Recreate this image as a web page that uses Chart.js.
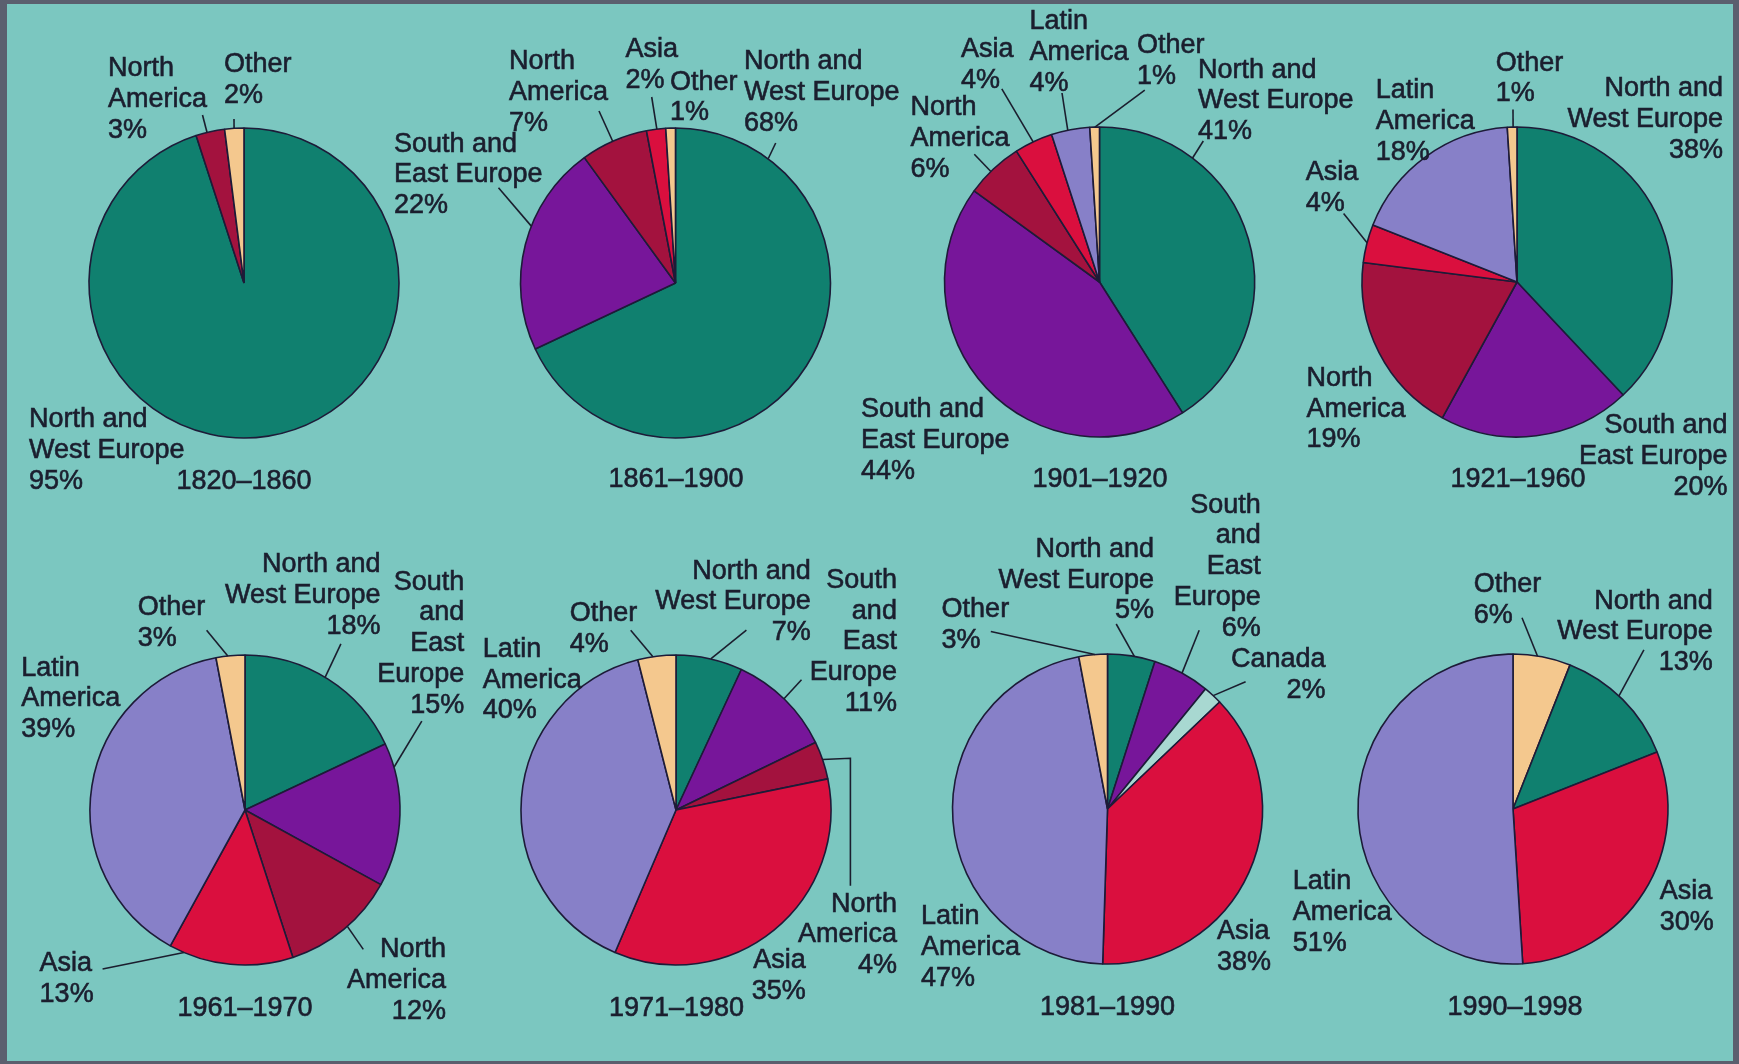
<!DOCTYPE html>
<html>
<head>
<meta charset="utf-8">
<title>Immigration by region of origin, 1820-1998</title>
<script src="https://cdn.jsdelivr.net/npm/chart.js@4.4.1/dist/chart.umd.min.js"></script>
<style>
  html, body { margin: 0; padding: 0; }
  body { width: 1739px; height: 1064px; background: #5b5f6e; position: relative; overflow: hidden; }
  #panel { position: absolute; left: 7px; top: 4px; width: 1726px; height: 1057px; background: #7bc7c0; }
  canvas.pie { position: absolute; left: 0; top: 0; }
</style>
</head>
<body>
<div id="panel"></div>
<div id="charts"></div>

<script>
// Data: share of immigrants by region of origin, per period
const periods = ['1820–1860', '1861–1900', '1901–1920', '1921–1960',
                 '1961–1970', '1971–1980', '1981–1990', '1990–1998'];

const regions1820 = ['North and West Europe', 'North America', 'Other'];
const share1820 = [95, 3, 2];

const regions1861 = ['North and West Europe', 'South and East Europe', 'North America', 'Asia', 'Other'];
const share1861 = [68, 22, 7, 2, 1];

const regions1901 = ['North and West Europe', 'South and East Europe', 'North America', 'Asia', 'Latin America', 'Other'];
const share1901 = [41, 44, 6, 4, 4, 1];

const regions1921 = ['North and West Europe', 'South and East Europe', 'North America', 'Asia', 'Latin America', 'Other'];
const share1921 = [38, 20, 19, 4, 18, 1];

const regions1961 = ['North and West Europe', 'South and East Europe', 'North America', 'Asia', 'Latin America', 'Other'];
const share1961 = [18, 15, 12, 13, 39, 3];

const regions1971 = ['North and West Europe', 'South and East Europe', 'North America', 'Asia', 'Latin America', 'Other'];
const share1971 = [7, 11, 4, 35, 40, 4];

const regions1981 = ['North and West Europe', 'South and East Europe', 'Canada', 'Asia', 'Latin America', 'Other'];
const share1981 = [5, 6, 2, 38, 47, 3];

const regions1990 = ['Other', 'North and West Europe', 'Asia', 'Latin America'];
const share1990 = [6, 13, 30, 51];

const allRegions = [regions1820, regions1861, regions1901, regions1921, regions1961, regions1971, regions1981, regions1990];
const allShares = [share1820, share1861, share1901, share1921, share1961, share1971, share1981, share1990];

// Styles
const regionColors = {
  'North and West Europe': '#10806f',
  'South and East Europe': '#77169a',
  'North America': '#a3123e',
  'Canada': '#a8d8d1',
  'Asia': '#da0f3e',
  'Latin America': '#8780c8',
  'Other': '#f4c88e'
};
const wraps = {
  'North and West Europe': ['North and', 'West Europe'],
  'South and East Europe': ['South and', 'East Europe'],
  'North America': ['North', 'America'],
  'Latin America': ['Latin', 'America'],
  'Canada': ['Canada'],
  'Asia': ['Asia'],
  'Other': ['Other']
};
const tallWrap = ['South', 'and', 'East', 'Europe'];
const TEXT = '#1b1e2e';
const FONT = '27px "Liberation Sans", Arial, Helvetica, sans-serif';
const LINE = 30.8;
const W = 1739, H = 1064, R = 155;

// Layout: pie centres, label anchors and leader lines
const centers = [[244, 283], [675.5, 283], [1099.5, 282], [1517, 282],
                 [245, 810], [676, 810], [1107.5, 809], [1513, 809]];
const titlePos = [[244, 489], [676, 487], [1100, 487], [1518, 487],
                  [245, 1016], [676.5, 1016], [1107.5, 1015], [1515, 1015]];
const labelLayout = [
  [
    { s: 0, x: 29, y: 427 },
    { s: 1, x: 108, y: 76, lead: { t: 0.39, to: [[202.5, 115]] } },
    { s: 2, x: 224, y: 72, lead: { t: 0.49, to: [[234, 119]] } }
  ],
  [
    { s: 0, x: 744, y: 69, lead: { t: 0.15, to: [[775.7, 143]] } },
    { s: 1, x: 394, y: 151.5, lead: { t: 0.59, to: [[498.5, 187.7]] } },
    { s: 2, x: 509, y: 69, lead: { t: 0.48, to: [[599, 111]] } },
    { s: 3, x: 625.6, y: 57, lead: { t: 0.54, to: [[651.7, 97]] } },
    { s: 4, x: 670, y: 89.5 }
  ],
  [
    { s: 0, x: 1198, y: 77.5, lead: { t: 0.25, to: [[1203.3, 141]] } },
    { s: 1, x: 861, y: 417 },
    { s: 2, x: 910.6, y: 115.4, lead: { t: 0.44, to: [[974.3, 154.3]] } },
    { s: 3, x: 961, y: 57, lead: { t: 0.49, to: [[1001.8, 88.8]] } },
    { s: 4, x: 1029.4, y: 29.3, lead: { t: 0.43, to: [[1062, 93]] } },
    { s: 5, x: 1137, y: 53.4, lead: { t: 0.53, to: [[1144.8, 90.2]] } }
  ],
  [
    { s: 0, x: 1723, y: 96.4, align: 'right' },
    { s: 1, x: 1727.6, y: 433.2, align: 'right' },
    { s: 2, x: 1306.4, y: 385.7 },
    { s: 3, x: 1305.7, y: 179.8, lead: { t: 0.52, to: [[1343.6, 213.5]] } },
    { s: 4, x: 1375.7, y: 98.1 },
    { s: 5, x: 1495.8, y: 70.6, lead: { t: 0.6, to: [[1513, 109.5]] } }
  ],
  [
    { s: 0, x: 380.5, y: 572.3, align: 'right', lead: { t: 0.48, to: [[340.9, 643.9]] } },
    { s: 1, x: 464.2, y: 589.5, align: 'right', tall: true, lead: { t: 0.17, to: [[421.8, 721.1]] } },
    { s: 2, x: 445.9, y: 957.3, align: 'right', lead: { t: 0.46, to: [[363.3, 949.4]] } },
    { s: 3, x: 39.6, y: 971.1, lead: { t: 0.88, to: [[102.6, 969]] } },
    { s: 4, x: 21.3, y: 675.6 },
    { s: 5, x: 137.7, y: 615.4, lead: { t: 0.41, to: [[206.6, 630.2]] } }
  ],
  [
    { s: 0, x: 810.8, y: 578.5, align: 'right', lead: { t: 0.52, to: [[746.4, 630.2]] } },
    { s: 1, x: 896.9, y: 587.8, align: 'right', tall: true, lead: { t: 0.49, to: [[801.5, 679.8]] } },
    { s: 2, x: 896.9, y: 911.5, align: 'right', lead: { t: 0.48, to: [[850.4, 758.3], [850.4, 885.7]] } },
    { s: 3, x: 805.7, y: 968.3, align: 'right' },
    { s: 4, x: 482.7, y: 656.7 },
    { s: 5, x: 569.8, y: 621.2, lead: { t: 0.4, to: [[630.7, 630.2]] } }
  ],
  [
    { s: 0, x: 1154, y: 556.8, align: 'right', lead: { t: 0.56, to: [[1116.2, 624]] } },
    { s: 1, x: 1260.8, y: 512.5, align: 'right', tall: true, lead: { t: 0.51, to: [[1199.2, 630.2]] } },
    { s: 2, x: 1325.5, y: 667, align: 'right', lead: { t: 0.53, to: [[1245.6, 681.8]] } },
    { s: 3, x: 1217, y: 939 },
    { s: 4, x: 920.9, y: 924.2 },
    { s: 5, x: 941.6, y: 617, lead: { t: 0.56, to: [[990.8, 631.5]] } }
  ],
  [
    { s: 0, x: 1473.8, y: 592.3, lead: { t: 0.42, to: [[1522, 617.8]] } },
    { s: 1, x: 1712.8, y: 608.5, align: 'right', lead: { t: 0.46, to: [[1643.9, 649.8]] } },
    { s: 2, x: 1659.7, y: 899.4 },
    { s: 3, x: 1292.7, y: 889.1 }
  ]
];

// slightly heavier text, closer to the printed Helvetica
function drawText(ctx, txt, x, y) {
  ctx.strokeText(txt, x, y);
  ctx.fillText(txt, x, y);
}

// Labels, leader lines and period title drawn after each pie
const pieLabels = {
  id: 'pieLabels',
  afterDraw(chart, args, opts) {
    const ctx = chart.ctx;
    const meta = chart.getDatasetMeta(0);
    const values = chart.data.datasets[0].data;
    ctx.save();
    ctx.font = FONT;
    ctx.fillStyle = TEXT;
    ctx.strokeStyle = TEXT;
    ctx.textBaseline = 'alphabetic';
    opts.labels.forEach(lb => {
      const name = chart.data.labels[lb.s];
      const lines = (lb.tall ? tallWrap : wraps[name]).concat(values[lb.s] + '%');
      ctx.textAlign = lb.align || 'left';
      ctx.lineWidth = 0.6;
      lines.forEach((txt, k) => drawText(ctx, txt, lb.x, lb.y + k * LINE));
      if (lb.lead) {
        const arc = meta.data[lb.s];
        const a = arc.startAngle + (arc.endAngle - arc.startAngle) * lb.lead.t;
        ctx.lineWidth = 1.6;
        ctx.beginPath();
        ctx.moveTo(arc.x + Math.cos(a) * arc.outerRadius, arc.y + Math.sin(a) * arc.outerRadius);
        lb.lead.to.forEach(p => ctx.lineTo(p[0], p[1]));
        ctx.stroke();
      }
    });
    ctx.textAlign = 'center';
    ctx.lineWidth = 0.6;
    drawText(ctx, opts.title, opts.titleX, opts.titleY);
    ctx.restore();
  }
};

const holder = document.getElementById('charts');
periods.forEach((period, n) => {
  const canvas = document.createElement('canvas');
  canvas.className = 'pie';
  canvas.width = W;
  canvas.height = H;
  holder.appendChild(canvas);
  const [cx, cy] = centers[n];
  const box = R + 4;
  new Chart(canvas.getContext('2d'), {
    type: 'pie',
    data: {
      labels: allRegions[n],
      datasets: [{
        data: allShares[n],
        backgroundColor: allRegions[n].map(r => regionColors[r]),
        borderColor: '#1d1b38',
        borderWidth: 1.6
      }]
    },
    options: {
      responsive: false,
      animation: false,
      devicePixelRatio: 1,
      events: [],
      radius: R,
      layout: {
        padding: { left: cx - box, right: W - cx - box, top: cy - box, bottom: H - cy - box }
      },
      plugins: {
        legend: { display: false },
        tooltip: { enabled: false },
        pieLabels: {
          labels: labelLayout[n],
          title: period,
          titleX: titlePos[n][0],
          titleY: titlePos[n][1]
        }
      }
    },
    plugins: [pieLabels]
  });
});
</script>
</body>
</html>
